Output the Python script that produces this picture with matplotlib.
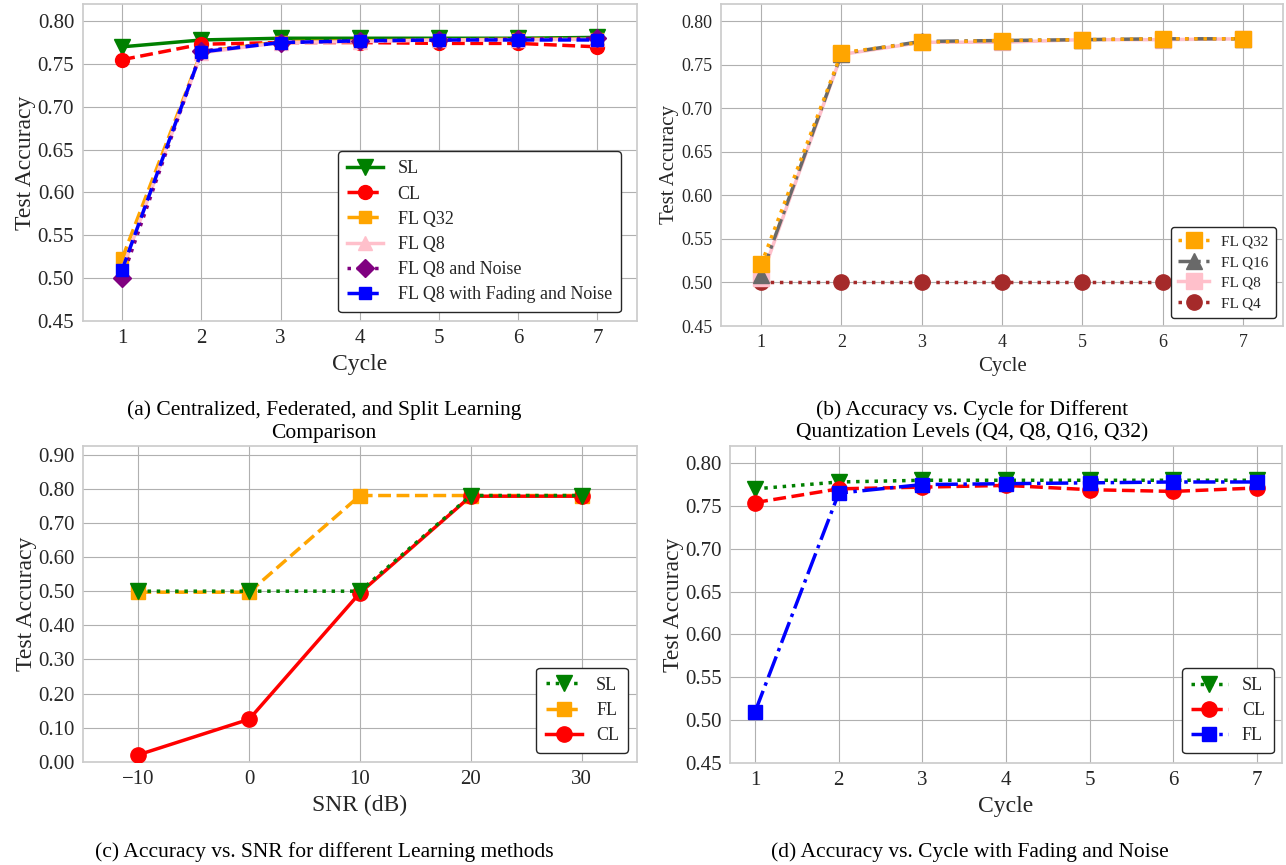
import numpy as np
import matplotlib
matplotlib.use("Agg")
import matplotlib.pyplot as plt

plt.rcParams['font.family'] = 'serif'
plt.rcParams['font.serif'] = ['Liberation Serif', 'DejaVu Serif']
plt.rcParams['text.color'] = '.15'
plt.rcParams['axes.labelcolor'] = '.15'
plt.rcParams['xtick.color'] = '.15'
plt.rcParams['ytick.color'] = '.15'

# ---- data ----
cycles = [1, 2, 3, 4, 5, 6, 7]

# (a) comparison
a_sl = [0.770, 0.778, 0.780, 0.780, 0.780, 0.780, 0.781]
a_cl = [0.755, 0.773, 0.775, 0.775, 0.774, 0.774, 0.770]
a_q32 = [0.523, 0.764, 0.776, 0.777, 0.778, 0.779, 0.779]
a_q8 = [0.510, 0.763, 0.775, 0.776, 0.778, 0.778, 0.779]
a_q8_noise = [0.500, 0.765, 0.775, 0.777, 0.778, 0.779, 0.780]
a_q8_fading = [0.510, 0.764, 0.775, 0.777, 0.778, 0.778, 0.778]

# (b) quantization levels
b_q32 = [0.521, 0.764, 0.776, 0.778, 0.779, 0.780, 0.780]
b_q16 = [0.509, 0.763, 0.777, 0.778, 0.779, 0.780, 0.780]
b_q8 = [0.505, 0.762, 0.776, 0.776, 0.779, 0.779, 0.780]
b_q4 = [0.500, 0.500, 0.500, 0.500, 0.500, 0.500, 0.500]

# (c) SNR
snr = [-10, 0, 10, 20, 30]
c_sl = [0.500, 0.500, 0.500, 0.780, 0.780]
c_fl = [0.497, 0.497, 0.780, 0.780, 0.780]
c_cl = [0.021, 0.125, 0.495, 0.778, 0.778]

# (d) fading and noise
d_sl = [0.770, 0.778, 0.780, 0.780, 0.780, 0.780, 0.780]
d_cl = [0.754, 0.770, 0.772, 0.774, 0.769, 0.767, 0.771]
d_fl = [0.510, 0.765, 0.775, 0.776, 0.777, 0.778, 0.778]

captions = [
    "(a) Centralized, Federated, and Split Learning\nComparison",
    "(b) Accuracy vs. Cycle for Different\nQuantization Levels (Q4, Q8, Q16, Q32)",
    "(c) Accuracy vs. SNR for different Learning methods",
    "(d) Accuracy vs. Cycle with Fading and Noise",
]


def style(ax, tick_fs):
    ax.set_facecolor('white')
    ax.grid(True, color='#b0b0b0', linewidth=0.8)
    ax.set_axisbelow(True)
    for s in ax.spines.values():
        s.set_color('#cccccc')
        s.set_linewidth(1.25)
    ax.tick_params(length=0, labelsize=tick_fs, pad=6)


def legend(ax, fs, spacing, **kw):
    leg = ax.legend(fontsize=fs, frameon=True, fancybox=True, framealpha=1,
                    edgecolor='.15', labelspacing=spacing, borderpad=0.5,
                    borderaxespad=0, **kw)
    leg.get_frame().set_linewidth(1.0)
    for t in leg.get_texts():
        t.set_color('.15')
    return leg


fig = plt.figure(figsize=(12.86, 8.65), dpi=100)

# (a)
ax = fig.add_axes([0.0642, 0.6289, 0.4312, 0.3665])
ax.plot(cycles, a_sl, color='green', ls='-', marker='v', lw=2.5, ms=11, label='SL')
ax.plot(cycles, a_cl, color='red', ls='--', marker='o', lw=2.5, ms=10, label='CL')
ax.plot(cycles, a_q32, color='orange', ls='--', marker='s', lw=2.5, ms=9, label='FL Q32')
ax.plot(cycles, a_q8, color='pink', ls='-', marker='^', lw=2.5, ms=10, label='FL Q8')
ax.plot(cycles, a_q8_noise, color='purple', ls=':', marker='D', lw=2.5, ms=9, label='FL Q8 and Noise')
ax.plot(cycles, a_q8_fading, color='blue', ls='--', marker='s', lw=2.5, ms=9, label='FL Q8 with Fading and Noise')
ax.set_xlim(0.5, 7.5)
ax.set_ylim(0.45, 0.82)
ax.set_xticks(cycles)
ax.set_yticks(np.arange(0.45, 0.801, 0.05))
ax.yaxis.set_major_formatter(matplotlib.ticker.FormatStrFormatter('%.2f'))
style(ax, 15)
ax.set_xlabel('Cycle', fontsize=17)
ax.set_ylabel('Test Accuracy', fontsize=17, labelpad=1)
legend(ax, 13, 0.45, loc='lower right', bbox_to_anchor=(0.971, 0.028))

# (b)
ax = fig.add_axes([0.5607, 0.6231, 0.437, 0.3723])
ax.plot(cycles, b_q32, color='orange', ls=':', marker='s', lw=2.5, ms=11, label='FL Q32', zorder=5)
ax.plot(cycles, b_q16, color='dimgray', ls='-.', marker='^', lw=2.5, ms=11, label='FL Q16', zorder=4)
ax.plot(cycles, b_q8, color='pink', ls='-', marker='s', lw=2.5, ms=11, label='FL Q8', zorder=3)
ax.plot(cycles, b_q4, color='brown', ls=':', marker='o', lw=2.5, ms=11, label='FL Q4', zorder=2)
ax.set_xlim(0.5, 7.5)
ax.set_ylim(0.45, 0.82)
ax.set_xticks(cycles)
ax.set_yticks(np.arange(0.45, 0.801, 0.05))
ax.yaxis.set_major_formatter(matplotlib.ticker.FormatStrFormatter('%.2f'))
style(ax, 13)
ax.set_xlabel('Cycle', fontsize=15)
ax.set_ylabel('Test Accuracy', fontsize=15, labelpad=2)
legend(ax, 11, 0.45, loc='lower right', bbox_to_anchor=(0.9875, 0.025))

# (c)
ax = fig.add_axes([0.0645, 0.1191, 0.4308, 0.3653])
ax.plot(snr, c_fl, color='orange', ls='--', marker='s', lw=2.5, ms=10, label='FL', zorder=3)
ax.plot(snr, c_cl, color='red', ls='-', marker='o', lw=2.5, ms=11, label='CL', zorder=4)
ax.plot(snr, c_sl, color='green', ls=':', marker='v', lw=2.5, ms=11, label='SL', zorder=5)
ax.set_xlim(-15, 35)
ax.set_ylim(0, 0.925)
ax.set_xticks(snr)
ax.set_yticks(np.arange(0, 0.901, 0.1))
ax.yaxis.set_major_formatter(matplotlib.ticker.FormatStrFormatter('%.2f'))
style(ax, 15)
ax.set_xlabel('SNR (dB)', fontsize=17)
ax.set_ylabel('Test Accuracy', fontsize=17, labelpad=1)
h, l = ax.get_legend_handles_labels()
order = [2, 0, 1]
legend(ax, 13, 0.45, handles=[h[i] for i in order], labels=[l[i] for i in order],
       loc='lower right', bbox_to_anchor=(0.984, 0.0285))

# (d)
ax = fig.add_axes([0.5677, 0.1179, 0.4292, 0.3665])
ax.plot(cycles, d_sl, color='green', ls=':', marker='v', lw=2.5, ms=11, label='SL')
ax.plot(cycles, d_cl, color='red', ls='--', marker='o', lw=2.5, ms=11, label='CL')
ax.plot(cycles, d_fl, color='blue', ls='-.', marker='s', lw=2.5, ms=10, label='FL')
ax.set_ylim(0.45, 0.82)
ax.set_xticks(cycles)
ax.set_yticks(np.arange(0.45, 0.801, 0.05))
ax.yaxis.set_major_formatter(matplotlib.ticker.FormatStrFormatter('%.2f'))
style(ax, 15)
ax.set_xlabel('Cycle', fontsize=17)
ax.set_ylabel('Test Accuracy', fontsize=17, labelpad=1)
legend(ax, 13, 0.45, loc='lower right', bbox_to_anchor=(0.9855, 0.0306))

# captions
cap_pos = [(324 / 1286, 1 - 421.5 / 865), (972 / 1286, 1 - 421.5 / 865),
           (324 / 1286, 1 - 852 / 865), (970 / 1286, 1 - 852 / 865)]
for (x, y), txt in zip(cap_pos, captions):
    fig.text(x, y, txt, ha='center', va='center', fontsize=15.5, color='black',
             linespacing=1.25)

fig.savefig('out.png', dpi=100)
